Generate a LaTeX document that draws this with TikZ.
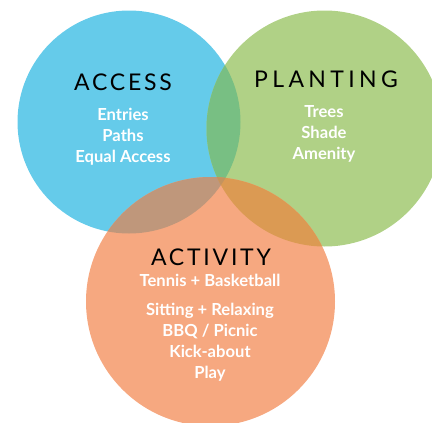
\documentclass[tikz,border=0pt]{standalone}
\usepackage{fontspec}
\setmainfont{Lato}
\newfontfamily\titlefont[LetterSpace=12]{Lato}
\newfontfamily\widetitlefont[LetterSpace=19]{Lato}
\newfontfamily\bodyfont{Lato Bold}
\definecolor{cblue}{HTML}{65CBEA}
\definecolor{cgreen}{HTML}{B0D186}
\definecolor{corange}{HTML}{F6A880}
\definecolor{cbg}{HTML}{78BF83}
\definecolor{cbo}{HTML}{BF977B}
\definecolor{cgo}{HTML}{DB9A53}
\definecolor{cbgo}{HTML}{C4935E}
\begin{document}
\begin{tikzpicture}[x=1pt,y=-1pt,
  titlestyle/.style={font=\titlefont\fontsize{23}{23}\selectfont, text=black, anchor=base, inner sep=0pt},
  bodystyle/.style={font=\bodyfont\fontsize{16.6}{21}\selectfont, text=white, anchor=base, inner sep=0pt, align=center}]
\useasboundingbox (0,0) rectangle (432,423);
\def\blueC{(129,122) circle (111.5)}
\def\greenC{(324.5,128.5) circle (118)}
\def\orangeC{(210.5,301.5) circle (124.5)}
\fill[cblue] \blueC;
\fill[cgreen] \greenC;
\fill[corange] \orangeC;
\begin{scope}\clip \blueC; \fill[cbg] \greenC; \end{scope}
\begin{scope}\clip \blueC; \fill[cbo] \orangeC; \end{scope}
\begin{scope}\clip \greenC; \fill[cgo] \orangeC; \end{scope}
\begin{scope}\clip \blueC; \clip \greenC; \fill[cbgo] \orangeC; \end{scope}
\node[titlestyle] (access) at (123,90.5) {ACCESS};
\node[titlestyle, font=\widetitlefont\fontsize{23}{23}\selectfont] (planting) at (326,88) {PLANTING};
\node[titlestyle] (activity) at (211,265) {ACTIVITY};
\node[bodystyle] (a1) at (123,120) {Entries};
\node[bodystyle] (a2) at (123,141) {Paths};
\node[bodystyle] (a3) at (123,162) {Equal Access};
\node[bodystyle] (p1) at (324,117) {Trees};
\node[bodystyle] (p2) at (324,138) {Shade};
\node[bodystyle] (p3) at (324,159) {Amenity};
\node[bodystyle] (t1) at (210,286) {Tennis + Basketball};
\node[bodystyle] (t2) at (210,315) {Sitting + Relaxing};
\node[bodystyle] (t3) at (210,336) {BBQ / Picnic};
\node[bodystyle] (t4) at (210,357) {Kick-about};
\node[bodystyle] (t5) at (210,378) {Play};
\end{tikzpicture}
\end{document}
